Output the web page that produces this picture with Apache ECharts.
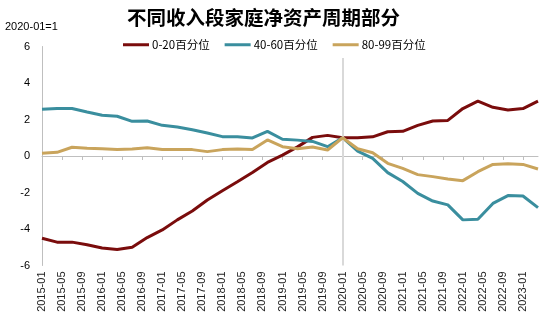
<!DOCTYPE html>
<html><head><meta charset="utf-8">
<script src="https://cdn.jsdelivr.net/npm/echarts@6/dist/echarts.min.js"></script>
<style>html,body{margin:0;padding:0;background:#fff}#c{width:550px;height:329px}</style>
</head><body><div id="c"></div>
<script>
// Quarterly observation dates
var quarters = ['2015-01','2015-04','2015-07','2015-10','2016-01','2016-04','2016-07','2016-10',
 '2017-01','2017-04','2017-07','2017-10','2018-01','2018-04','2018-07','2018-10',
 '2019-01','2019-04','2019-07','2019-10','2020-01','2020-04','2020-07','2020-10',
 '2021-01','2021-04','2021-07','2021-10','2022-01','2022-04','2022-07','2022-10',
 '2023-01','2023-04'];
var seriesNames = ['0-20百分位','40-60百分位','80-99百分位'];
var p0_20 = [-4.51,-4.72,-4.72,-4.86,-5.04,-5.12,-5.0,-4.47,-4.05,-3.5,-3.01,-2.41,-1.9,-1.41,-0.9,-0.35,
 0.05,0.5,1.02,1.13,1.0,1.0,1.05,1.33,1.35,1.68,1.92,1.95,2.6,3.01,2.67,2.52,2.6,3.01];
var p40_60 = [2.56,2.6,2.6,2.41,2.23,2.18,1.9,1.92,1.68,1.59,1.44,1.26,1.06,1.06,0.99,1.35,
 0.92,0.87,0.8,0.51,1.0,0.27,-0.13,-0.91,-1.4,-2.05,-2.47,-2.68,-3.5,-3.47,-2.6,-2.17,-2.19,-2.83];
var p80_99 = [0.15,0.2,0.48,0.43,0.4,0.36,0.38,0.45,0.36,0.35,0.35,0.24,0.35,0.38,0.35,0.88,
 0.51,0.4,0.49,0.33,1.0,0.4,0.18,-0.4,-0.68,-1.02,-1.13,-1.26,-1.35,-0.86,-0.46,-0.42,-0.46,-0.71];
var yTicks = [-6,-4,-2,0,2,4,6];

// monthly categories for the date-style axis
var months = [];
for (var y = 2015; y <= 2023; y++) {
  for (var m = 1; m <= 12; m++) {
    var s = y + '-' + (m < 10 ? '0' + m : m);
    months.push(s);
    if (s === '2023-04') break;
  }
}
function pairs(arr) { return quarters.map(function (q, i) { return [q, arr[i]]; }); }

var colors = ['#7a0c0c', '#3a8e9e', '#c9a45c'];
var font = 'Liberation Sans, Arial, sans-serif';
var chart = echarts.init(document.getElementById('c'), null, {renderer: 'canvas'});
var baseSeries = [p0_20, p40_60, p80_99].map(function (arr, i) {
  return {
    name: seriesNames[i], type: 'line', data: pairs(arr), xAxisIndex: 0,
    showSymbol: false, symbol: 'none', lineStyle: {width: 3, color: colors[i]},
    itemStyle: {color: colors[i]}, z: 3 + i, animation: false
  };
});
baseSeries[0].markLine = {
  silent: true, symbol: 'none', animation: false, label: {show: false},
  lineStyle: {color: '#d9d9d9', width: 2, type: 'solid'},
  data: [[{coord: ['2020-01', 5.37]}, {coord: ['2020-01', -6]}]]
};
chart.setOption({
  backgroundColor: '#fff',
  animation: false,
  color: colors,
  title: [
    {text: '不同收入段家庭净资产周期部分', left: 122, top: 3,
     textStyle: {fontFamily: 'Noto Sans CJK SC', fontSize: 19.5, fontWeight: 'bold', color: '#000'}},
    {text: '2020-01=1', left: 0, top: 16,
     textStyle: {fontFamily: font, fontSize: 11, fontWeight: 'normal', color: '#000'}}
  ],
  legend: {
    data: seriesNames, top: 34, left: 118, itemWidth: 26, itemHeight: 3, itemGap: 15,
    icon: 'rect',
    textStyle: {fontFamily: 'Noto Sans CJK SC', fontSize: 11.5, color: '#000', padding: [0, 0, 0, -2]}
  },
  grid: {left: 42, right: 12, top: 46.5, bottom: 63.5, containLabel: false},
  xAxis: [
    {type: 'category', data: months, boundaryGap: false, position: 'bottom',
     axisLine: {show: false, onZero: false}, axisTick: {show: false},
     axisLabel: {interval: 3, rotate: 90, fontFamily: font, fontSize: 11, color: '#222', margin: 6},
     splitLine: {show: false}},
    {type: 'category', data: months, boundaryGap: false, position: 'bottom',
     axisLine: {show: true, onZero: true, lineStyle: {color: '#bfbfbf', width: 1}},
     axisTick: {show: true, interval: 3, length: 4, inside: false, lineStyle: {color: '#bfbfbf'}},
     axisLabel: {show: false}, splitLine: {show: false}}
  ],
  yAxis: {
    type: 'value', min: -6, max: 6, interval: 2,
    axisLine: {show: true, lineStyle: {color: '#bfbfbf', width: 1}},
    axisTick: {show: false}, splitLine: {show: false},
    axisLabel: {fontFamily: font, fontSize: 11, color: '#000', margin: 12,
      formatter: function (v) { return yTicks.indexOf(v) >= 0 ? String(v) : ''; }}
  },
  series: baseSeries.concat([{
    type: 'line', xAxisIndex: 1, data: [], silent: true
  }])
});
</script></body></html>
